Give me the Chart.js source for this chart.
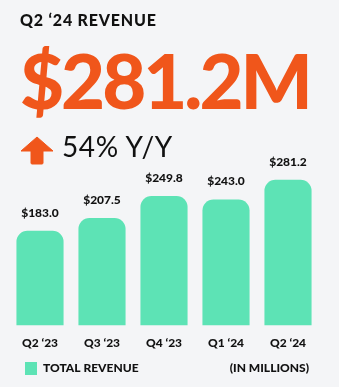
<!DOCTYPE html>
<html>
<head>
<meta charset="utf-8">
<script src="https://cdn.jsdelivr.net/npm/chart.js@4"></script>
<style>
  html, body { margin: 0; padding: 0; background: #f4f5f7; }
  body { width: 339px; height: 387px; position: relative; overflow: hidden; font-family: Lato, sans-serif; }
  #wrap { position: absolute; left: 0; top: 0; width: 339px; height: 387px; }
  .title { position: absolute; left: 20px; top: 10px; font-size: 16px; font-weight: 900; color: #111; letter-spacing: 0.8px; }
  .big { position: absolute; left: 20px; top: 34px; font-size: 76px; font-weight: 900; color: #f0561b; letter-spacing: -3px; line-height: 92px; }
  .yoy { position: absolute; left: 62px; top: 129px; font-size: 28px; color: #111; line-height: 34px; letter-spacing: 0.6px; }
  .arrow { position: absolute; left: 20px; top: 136px; }
  .unit { position: absolute; right: 30px; top: 360px; font-size: 12px; font-weight: 900; color: #111; }
</style>
</head>
<body>
<div id="wrap"><canvas id="myChart" width="339" height="387"></canvas></div>
<div class="title">Q2 ‘24 REVENUE</div>
<div class="big">$281.2M</div>
<svg class="arrow" width="34" height="30" viewBox="0 0 34 30">
  <path d="M17 1 L33 15 L23 15 L23 27 Q23 28 22 28 L12 28 Q11 28 11 27 L11 15 L1 15 Z" fill="#f0561b" stroke="#f0561b" stroke-width="1" stroke-linejoin="round"/>
</svg>
<div class="yoy">54% Y/Y</div>
<div class="unit">(IN MILLIONS)</div>
<script>
const labels = ["Q2 ‘23", "Q3 ‘23", "Q4 ‘23", "Q1 ‘24", "Q2 ‘24"];
const revenue = [183.0, 207.5, 249.8, 243.0, 281.2];
const seriesName = "TOTAL REVENUE";

const valueLabels = {
  id: "valueLabels",
  afterDatasetsDraw(chart) {
    const ctx = chart.ctx;
    ctx.save();
    ctx.font = "900 12px Lato";
    ctx.fillStyle = "#111";
    ctx.textAlign = "center";
    ctx.textBaseline = "middle";
    chart.getDatasetMeta(0).data.forEach((bar, i) => {
      ctx.fillText("$" + revenue[i].toFixed(1), bar.x, bar.y - 18);
    });
    ctx.restore();
  }
};

// nudge the legend right and down, like the original
const legendShift = {
  id: "legendShift",
  afterLayout(chart) {
    chart.legend.left += 12;
    chart.legend.right += 12;
    chart.legend.top += 6;
    chart.legend.bottom += 6;
  }
};

const ctx = document.getElementById("myChart").getContext("2d");
new Chart(ctx, {
  type: "bar",
  data: {
    labels: labels,
    datasets: [{
      label: seriesName,
      data: revenue,
      backgroundColor: "#5de3b5",
      borderRadius: { topLeft: 11, topRight: 11 },
      borderSkipped: "bottom",
      barPercentage: 0.76,
      categoryPercentage: 1
    }]
  },
  options: {
    responsive: false,
    animation: false,
    layout: { padding: { left: 9, right: 20, top: 170, bottom: 8 } },
    plugins: {
      tooltip: { enabled: false },
      legend: {
        position: "bottom",
        align: "start",
        labels: {
          boxWidth: 12,
          boxHeight: 13,
          padding: 4,
          color: "#111",
          font: { family: "Lato", size: 12, weight: "900" }
        }
      }
    },
    scales: {
      x: {
        grid: { display: false },
        border: { display: false },
        ticks: { color: "#111", padding: 2, font: { family: "Lato", size: 12, weight: "900" } }
      },
      y: {
        display: false,
        min: 0,
        max: 300
      }
    }
  },
  plugins: [valueLabels, legendShift]
});
</script>
</body>
</html>
